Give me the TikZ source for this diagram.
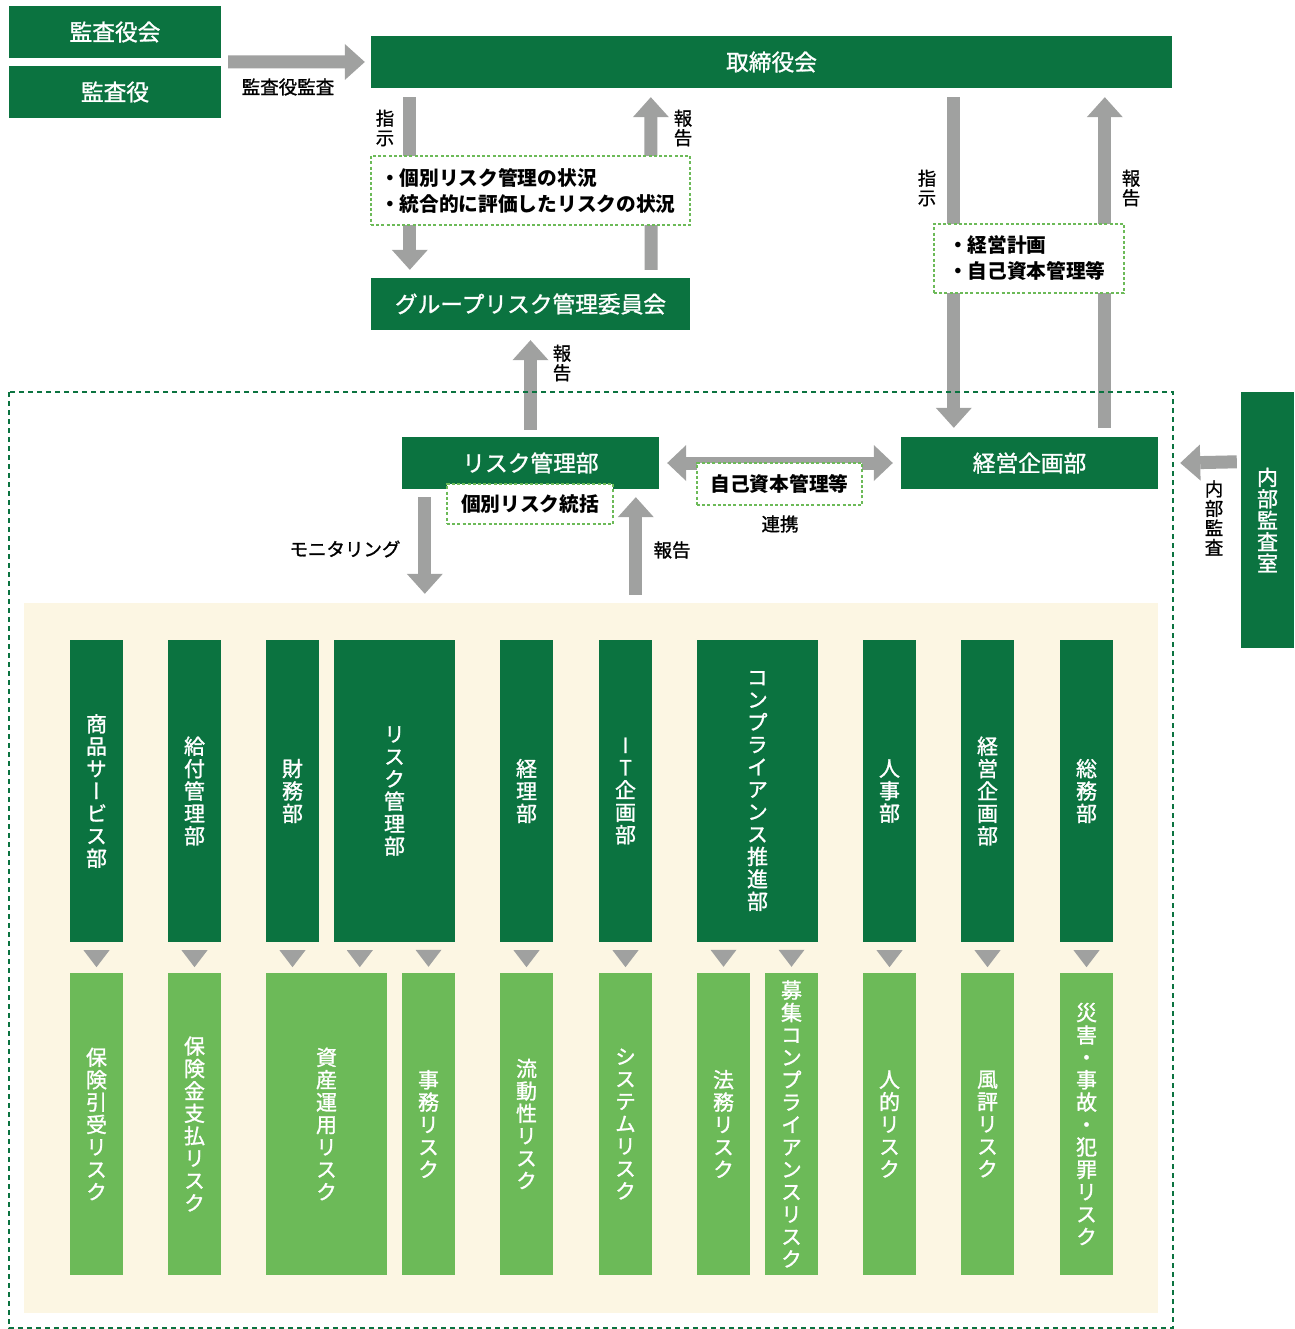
\documentclass[tikz,border=0pt]{standalone}
\usepackage{fontspec}
\setmainfont{Noto Sans CJK JP}
\newfontfamily\medjp[FakeBold=1.2]{Noto Sans CJK JP}
\newfontfamily\vjp[RawFeature=+vert,FakeBold=1.2]{Noto Sans CJK JP}
\newfontfamily\vljp[RawFeature=+vert,FakeBold=0.8]{Noto Sans CJK JP}
\usetikzlibrary{arrows.meta,calc}
\definecolor{dgreen}{HTML}{0B7340}
\definecolor{lgreen}{HTML}{6CBA58}
\definecolor{agray}{HTML}{A0A1A0}
\definecolor{cream}{HTML}{FCF6E3}
\tikzset{
  gbox/.style={fill=dgreen, text=white, font=\medjp\fontsize{22.7}{26}\selectfont, inner sep=0pt},
  dept/.style={fill=dgreen, text=white, font=\vjp\fontsize{21}{22.4}\selectfont, align=center, minimum height=302pt, inner sep=0pt},
  risk/.style={dept, fill=lgreen},
  dbox/.style={draw=lgreen, line width=2.5pt, dash pattern=on 3pt off 2.2pt, fill=white, font=\bfseries\fontsize{19.7}{26}\selectfont},
  lab/.style={font=\medjp\fontsize{18.5}{20}\selectfont, inner sep=0pt},
  vlab/.style={inner sep=0pt, font=\vljp\fontsize{18.5}{19.5}\selectfont, align=center},
  bigarrow/.style={draw=agray, line width=13pt, -{Triangle[width=36pt,length=20pt,line width=0pt]}},
  dblarrow/.style={draw=agray, line width=13pt, {Triangle[width=36pt,length=19pt,line width=0pt]}-{Triangle[width=36pt,length=19pt,line width=0pt]}},
  tri/.style={fill=agray},
}
\begin{document}
\begin{tikzpicture}[x=1pt,y=-1pt]
\useasboundingbox[fill=white] (0,0) rectangle (1294,1329);
% cream area
\node[fill=cream, minimum width=1134pt, minimum height=710pt, inner sep=0pt] (area) at (591,958) {};

% top boxes
\node[gbox, minimum width=212pt, minimum height=52pt] (ksk) at (115,32) {監査役会};
\node[gbox, minimum width=212pt, minimum height=52pt] (ks) at (115,92) {監査役};
\node[gbox, minimum width=801pt, minimum height=52pt] (top) at (771.5,62) {取締役会};
\node[gbox, minimum width=319pt, minimum height=52pt] (grp) at (530.5,304) {グループリスク管理委員会};
\node[gbox, minimum width=257pt, minimum height=52pt] (rm) at (530.5,463) {リスク管理部};
\node[gbox, minimum width=257pt, minimum height=52pt] (kp) at (1029.5,463) {経営企画部};
\node[gbox, minimum width=53pt, minimum height=256pt, font=\vjp\fontsize{21}{21.5}\selectfont, align=center] (nb) at (1267.5,520) {内\\部\\監\\査\\室};

% arrows
\draw[bigarrow] ($(ksk.south east)!0.5!(ks.north east)+(7,0)$) -- ($(top.west)+(-6,0)$);
\draw[bigarrow] ($(top.south west)+(39,9)$) -- ($(grp.north west)+(39,-8)$);
\draw[bigarrow] ($(grp.north east)+(-39,-8)$) -- ($(top.south west)+(280,9)$);
\draw[bigarrow] ($(top.south west)+(583,9)$) -- ($(kp.north west)+(53,-9)$);
\draw[bigarrow] ($(kp.north west)+(204,-9)$) -- ($(top.south west)+(734,9)$);
\draw[bigarrow] ($(rm.north)+(0,-7)$) -- ($(grp.south)+(0,10)$);
\draw[dblarrow] ($(rm.east)+(8,0)$) -- ($(kp.west)+(-8,0)$);
\draw[bigarrow] ($(nb.north west)+(-4,70)$) -- ($(kp.east)+(22,0)$);
\draw[bigarrow] ($(rm.south west)+(23,8)$) -- ($(area.north west)+(401,-9)$);
\draw[bigarrow] ($(area.north west)+(612,-8)$) -- ($(rm.south west)+(234,8)$);

% dashed info boxes
\node[dbox, minimum width=319pt, minimum height=69pt, text width=301pt, inner xsep=9pt, align=left] (b1) at (530.5,190.5) {・個別リスク管理の状況\\・統合的に評価したリスクの状況};
\node[dbox, minimum width=190pt, minimum height=69pt, text width=162pt, inner xsep=14pt, align=left] (b2) at (1029,258.5) {・経営計画\\・自己資本管理等};
\node[dbox, minimum width=166pt, minimum height=40pt, inner sep=0pt] (b3) at (530,504) {個別リスク統括};
\node[dbox, minimum width=165pt, minimum height=42pt, inner sep=0pt] (b4) at (779.5,484) {自己資本管理等};

% labels
\node[lab] (l1) at (288,87) {監査役監査};
\node[vlab] (l2) at (385,128) {指\\示};
\node[vlab] (l3) at (683,128) {報\\告};
\node[vlab] (l4) at (562,363) {報\\告};
\node[vlab] (l5) at (927,188) {指\\示};
\node[vlab] (l6) at (1131,188) {報\\告};
\node[lab] (l7) at (780,524) {連携};
\node[lab] (l8) at (345,549) {モニタリング};
\node[lab] (l9) at (672,550) {報告};
\node[vlab] (l10) at (1214,518) {内\\部\\監\\査};

% departments
\foreach \n/\x/\w/\t in {
  d1/96.5/53/{商\\品\\サ\\ー\\ビ\\ス\\部},
  d2/194.5/53/{給\\付\\管\\理\\部},
  d3/292.5/53/{財\\務\\部},
  d4/394.5/121/{リ\\ス\\ク\\管\\理\\部},
  d5/526.5/53/{経\\理\\部},
  d6/625.5/53/{I\\T\\企\\画\\部},
  d7/757.5/121/{コ\\ン\\プ\\ラ\\イ\\ア\\ン\\ス\\推\\進\\部},
  d8/889.5/53/{人\\事\\部},
  d9/987.5/53/{経\\営\\企\\画\\部},
  d10/1086.5/53/{総\\務\\部}}
  \node[dept, minimum width=\w pt] (\n) at (\x,791) {\t};

% risks
\foreach \n/\x/\w/\t in {
  r1/96.5/53/{保\\険\\引\\受\\リ\\ス\\ク},
  r2/194.5/53/{保\\険\\金\\支\\払\\リ\\ス\\ク},
  r3/326.5/121/{資\\産\\運\\用\\リ\\ス\\ク},
  r4/428.5/53/{事\\務\\リ\\ス\\ク},
  r5/526.5/53/{流\\動\\性\\リ\\ス\\ク},
  r6/625.5/53/{シ\\ス\\テ\\ム\\リ\\ス\\ク},
  r7/723.5/53/{法\\務\\リ\\ス\\ク},
  r8/791.5/53/{募\\集\\コ\\ン\\プ\\ラ\\イ\\ア\\ン\\ス\\リ\\ス\\ク},
  r9/889.5/53/{人\\的\\リ\\ス\\ク},
  r10/987.5/53/{風\\評\\リ\\ス\\ク},
  r11/1086.5/53/{災\\害\\・\\事\\故\\・\\犯\\罪\\リ\\ス\\ク}}
  \node[risk, minimum width=\w pt] (\n) at (\x,1124) {\t};

% triangles (dept -> risk)
\foreach \d in {d1,d2,d3,d5,d6,d8,d9,d10}
  \fill[tri] ($(\d.south)+(-13,8)$) -- ++(26,0) -- ++(-13,17) -- cycle;
\fill[tri] ($(d4.south west)+(13,8)$) -- ++(26,0) -- ++(-13,17) -- cycle;
\foreach \r in {r4,r7,r8}
  \fill[tri] ($(\r.north)+(-13,-23)$) -- ++(26,0) -- ++(-13,17) -- cycle;

% big dashed frame
\draw[dgreen, line width=2.6pt, dash pattern=on 5pt off 4pt] (9,392) rectangle (1173,1328);
\end{tikzpicture}
\end{document}
